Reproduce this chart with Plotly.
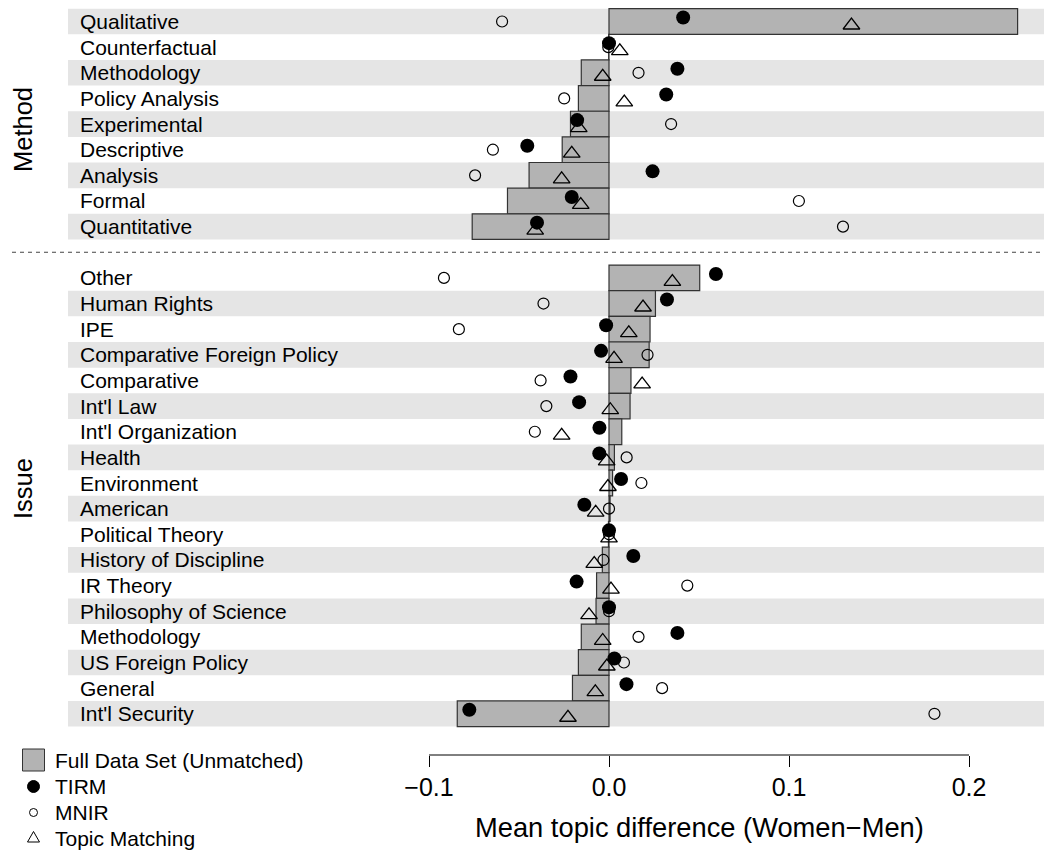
import plotly.graph_objects as go

# ---------------- data ----------------
method_labels = ["Qualitative", "Counterfactual", "Methodology", "Policy Analysis",
                 "Experimental", "Descriptive", "Analysis", "Formal", "Quantitative"]
method_full = [0.2270, -0.0002, -0.0154, -0.0170, -0.0214, -0.0260, -0.0444, -0.0564, -0.0760]
method_tirm = [0.0412, 0.0000, 0.0380, 0.0318, -0.0177, -0.0454, 0.0242, -0.0207, -0.0400]
method_mnir = [-0.0594, -0.0004, 0.0164, -0.0249, 0.0345, -0.0645, -0.0744, 0.1055, 0.1300]
method_tm = [0.1347, 0.0060, -0.0035, 0.0085, -0.0168, -0.0207, -0.0263, -0.0157, -0.0410]

issue_labels = ["Other", "Human Rights", "IPE", "Comparative Foreign Policy", "Comparative",
                "Int'l Law", "Int'l Organization", "Health", "Environment", "American",
                "Political Theory", "History of Discipline", "IR Theory",
                "Philosophy of Science", "Methodology", "US Foreign Policy", "General",
                "Int'l Security"]
issue_full = [0.0504, 0.0258, 0.0228, 0.0223, 0.0122, 0.0117, 0.0071, 0.0030, 0.0020, 0.0006,
              -0.0003, -0.0037, -0.0069, -0.0072, -0.0154, -0.0170, -0.0203, -0.0843]
issue_tirm = [0.0594, 0.0322, -0.0016, -0.0044, -0.0214, -0.0166, -0.0053, -0.0054, 0.0067,
              -0.0137, 0.0000, 0.0135, -0.0180, 0.0000, 0.0380, 0.0030, 0.0097, -0.0776]
issue_mnir = [-0.0917, -0.0364, -0.0834, 0.0214, -0.0380, -0.0348, -0.0412, 0.0098, 0.0180,
              0.0000, 0.0000, -0.0031, 0.0435, 0.0000, 0.0164, 0.0083, 0.0295, 0.1808]
issue_tm = [0.0352, 0.0189, 0.0110, 0.0028, 0.0184, 0.0007, -0.0263, -0.0013, -0.0006,
            -0.0074, 0.0000, -0.0082, 0.0011, -0.0111, -0.0035, -0.0012, -0.0076, -0.0228]

group_names = ["Method", "Issue"]
tick_vals = [-0.1, 0.0, 0.1, 0.2]
tick_text = ["\u22120.1", "0.0", "0.1", "0.2"]
x_title = "Mean topic difference (Women\u2212Men)"
legend_names = ["Full Data Set (Unmatched)", "TIRM", "MNIR", "Topic Matching"]

# ---------------- layout helpers ----------------
FONT = "Liberation Sans, Arial, Helvetica, sans-serif"
OFF = 8                      # page body margin in the browser
W, H = 1052 - OFF, 850 - OFF
PLOT_BOTTOM = 755 - OFF      # pixel of x axis line (figure coords)
ROW = 25.64                  # row pitch in px
ROW0 = 21.5 - OFF            # pixel centre of first row
ZERO_PX, PX_PER_UNIT = 609 - OFF, 1800.0


def fx(px):  # page pixel x -> paper x
    return (px - OFF) / W


def fy(py):  # page pixel y -> paper y
    return (PLOT_BOTTOM - (py - OFF)) / PLOT_BOTTOM


def px_to_row(py):  # page pixel y -> row coordinate
    return (py - OFF - ROW0) / ROW


n_m = len(method_labels)
method_y = list(range(n_m))
issue_y = [n_m + 1 + k for k in range(len(issue_labels))]
gap_y = n_m

labels = method_labels + issue_labels
ys = method_y + issue_y
full = method_full + issue_full
tirm = method_tirm + issue_tirm
mnir = method_mnir + issue_mnir
tm = method_tm + issue_tm

fig = go.Figure()

fig.add_trace(go.Bar(x=full, y=ys, orientation="h", width=1.0, base=0,
                     marker=dict(color="#B3B3B3", line=dict(color="#333333", width=1.2)),
                     showlegend=False, hoverinfo="skip"))
fig.add_trace(go.Scatter(x=mnir, y=ys, mode="markers",
                         marker=dict(symbol="circle-open", size=11, color="black",
                                     line=dict(width=1.2, color="black")),
                         showlegend=False))
fig.add_trace(go.Scatter(x=tirm, y=[v - 0.155 for v in ys], mode="markers",
                         marker=dict(symbol="circle", size=14, color="black"),
                         showlegend=False))
fig.add_trace(go.Scatter(x=tm, y=[v + 0.15 for v in ys], mode="markers",
                         marker=dict(symbol="triangle-up-open", size=14.5, color="black",
                                     line=dict(width=1.3, color="black")),
                         showlegend=False))

shapes = []
# alternating bands
for i, y in enumerate(method_y):
    if i % 2 == 0:
        shapes.append(dict(type="rect", xref="paper", yref="y", x0=fx(68), x1=1,
                           y0=y - 0.5, y1=y + 0.5, fillcolor="#E5E5E5",
                           line=dict(width=0), layer="below"))
for k, y in enumerate(issue_y):
    if k % 2 == 1:
        shapes.append(dict(type="rect", xref="paper", yref="y", x0=fx(68), x1=1,
                           y0=y - 0.5, y1=y + 0.5, fillcolor="#E5E5E5",
                           line=dict(width=0), layer="below"))
# dashed separator
shapes.append(dict(type="line", xref="paper", yref="y", x0=fx(12), x1=1, y0=gap_y, y1=gap_y,
                   line=dict(color="#444444", width=1, dash="4px,4px")))
# x axis line (only across tick range)
shapes.append(dict(type="line", xref="x", yref="paper", x0=tick_vals[0], x1=tick_vals[-1],
                   y0=0, y1=0, line=dict(color="black", width=1)))

# ---- manual legend keys (pixel-sized shapes) ----
LEG_KX = 33.5
leg_rows = [760, 786.5, 812.5, 838]
shapes.append(dict(type="rect", xref="paper", yref="paper", xsizemode="pixel", ysizemode="pixel",
                   xanchor=fx(LEG_KX), yanchor=fy(leg_rows[0]), x0=-11, x1=11, y0=-11, y1=11,
                   fillcolor="#B3B3B3", line=dict(color="#333333", width=1)))
shapes.append(dict(type="circle", xref="paper", yref="paper", xsizemode="pixel", ysizemode="pixel",
                   xanchor=fx(LEG_KX), yanchor=fy(leg_rows[1]), x0=-6, x1=6, y0=-6, y1=6,
                   fillcolor="black", line=dict(color="black", width=1)))
shapes.append(dict(type="circle", xref="paper", yref="paper", xsizemode="pixel", ysizemode="pixel",
                   xanchor=fx(LEG_KX), yanchor=fy(leg_rows[2]), x0=-4, x1=4, y0=-4, y1=4,
                   fillcolor="rgba(0,0,0,0)", line=dict(color="black", width=1)))
shapes.append(dict(type="path", xref="paper", yref="paper", xsizemode="pixel", ysizemode="pixel",
                   xanchor=fx(LEG_KX), yanchor=fy(leg_rows[3]),
                   path="M -6,-4 L 6,-4 L 0,6.5 Z",
                   fillcolor="rgba(0,0,0,0)", line=dict(color="black", width=1)))

annotations = []
for lab, y in zip(labels, ys):
    annotations.append(dict(text=lab, xref="paper", yref="y", x=fx(78), y=y,
                            xanchor="left", yanchor="middle", showarrow=False,
                            font=dict(family=FONT, size=21, color="black")))

for name, py in zip(legend_names, leg_rows):
    annotations.append(dict(text=name, xref="paper", yref="paper", x=fx(53), y=fy(py),
                            xanchor="left", yanchor="middle", showarrow=False,
                            font=dict(family=FONT, size=21, color="black")))

annotations.append(dict(text=group_names[0], xref="paper", yref="y", x=fx(23),
                        y=px_to_row(130), textangle=-90, showarrow=False,
                        xanchor="center", yanchor="middle",
                        font=dict(family=FONT, size=25.5, color="black")))
annotations.append(dict(text=group_names[1], xref="paper", yref="y", x=fx(23),
                        y=px_to_row(489), textangle=-90, showarrow=False,
                        xanchor="center", yanchor="middle",
                        font=dict(family=FONT, size=25.5, color="black")))
annotations.append(dict(text=x_title, xref="x", yref="paper", x=0.05,
                        y=fy(828), showarrow=False,
                        xanchor="center", yanchor="middle",
                        font=dict(family=FONT, size=27.3, color="black")))

fig.update_layout(
    width=W, height=H,
    margin=dict(l=0, r=0, t=0, b=H - PLOT_BOTTOM, autoexpand=False),
    paper_bgcolor="white", plot_bgcolor="rgba(0,0,0,0)",
    shapes=shapes, annotations=annotations,
    showlegend=False,
    xaxis=dict(range=[-ZERO_PX / PX_PER_UNIT, (W - ZERO_PX) / PX_PER_UNIT],
               showgrid=False, zeroline=False, showline=False,
               tickmode="array", tickvals=tick_vals, ticktext=tick_text,
               ticks="outside", ticklen=11, tickwidth=1, tickcolor="black",
               ticklabelstandoff=-1,
               tickfont=dict(family=FONT, size=25, color="black")),
    yaxis=dict(range=[px_to_row(755), px_to_row(OFF)], visible=False,
               showgrid=False, zeroline=False),
)

fig.write_html("out.html")
